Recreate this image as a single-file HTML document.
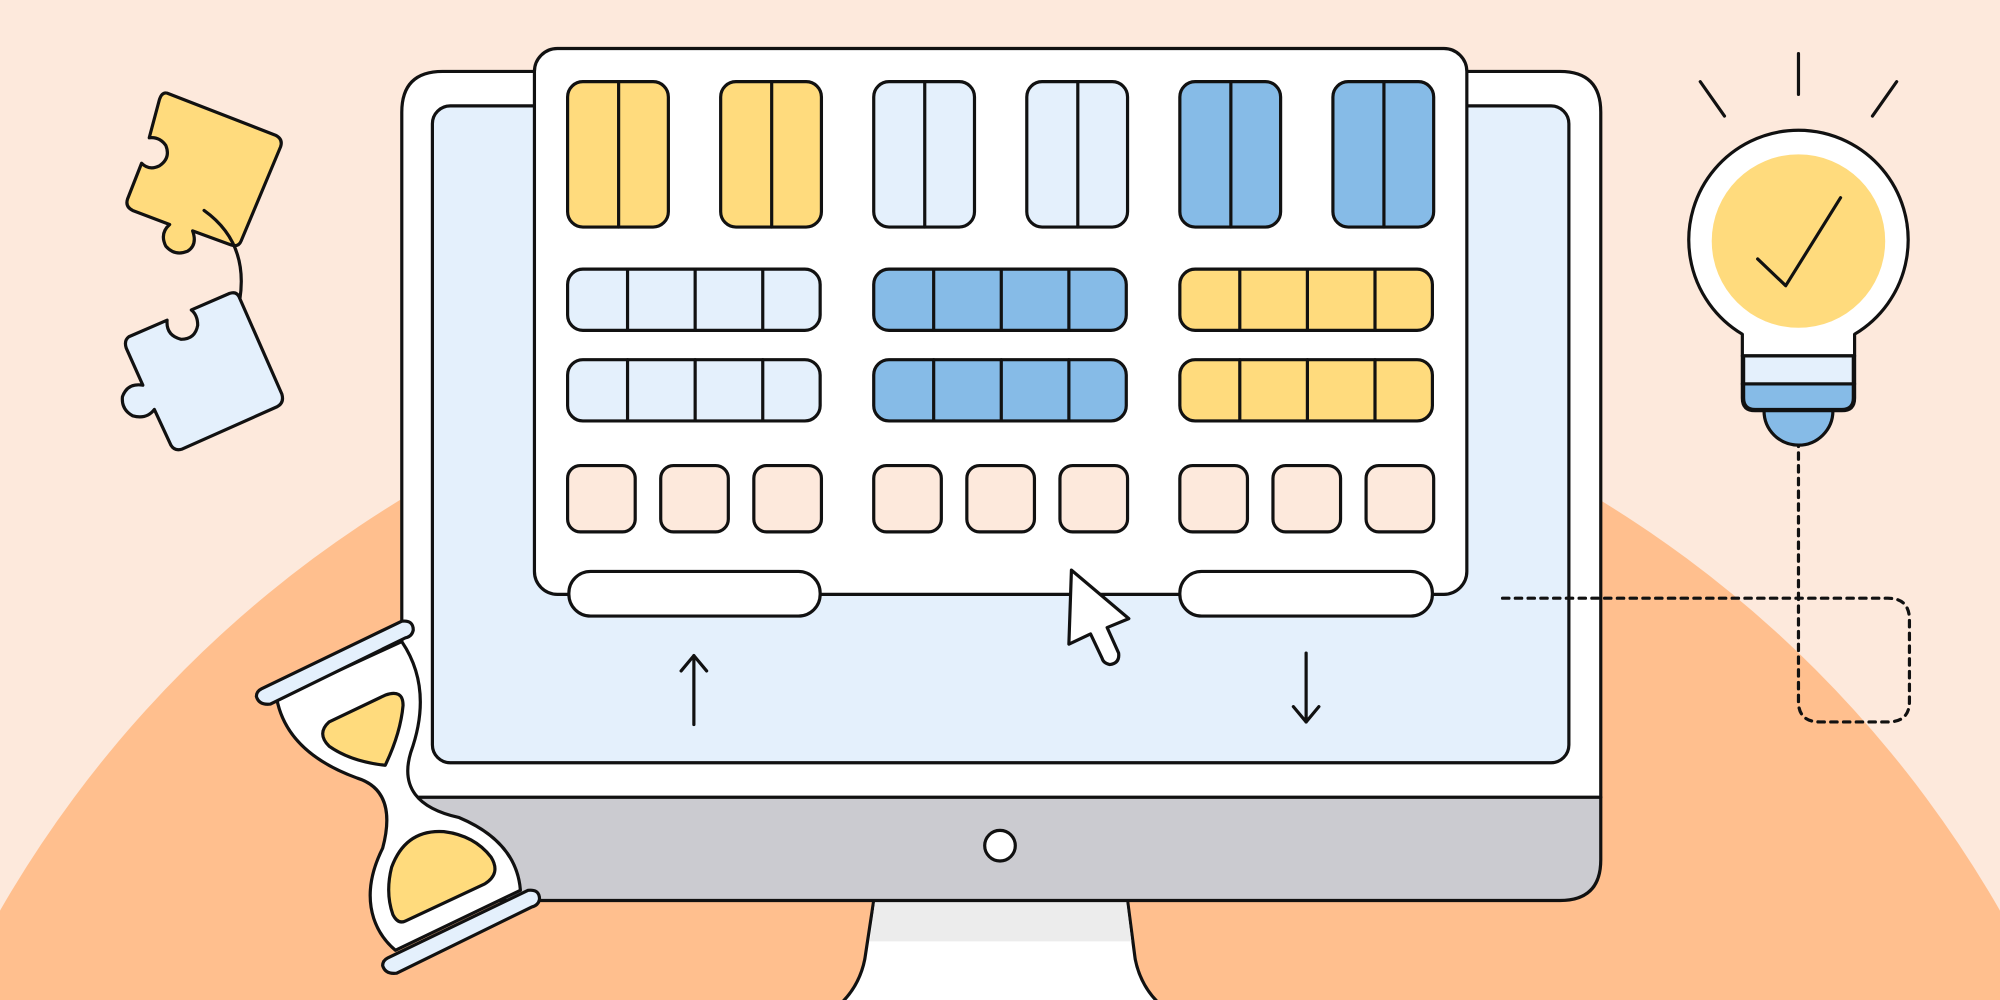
<!DOCTYPE html>
<html><head><meta charset="utf-8"><style>
html,body{margin:0;padding:0;width:2000px;height:1000px;overflow:hidden;background:#fde9dc}
svg{display:block;overflow:hidden}
</style></head><body>
<svg width="2000" height="1000" viewBox="0 0 1568 784" xmlns="http://www.w3.org/2000/svg" stroke="#111" stroke-width="2.5" stroke-linejoin="round" stroke-linecap="round">
<rect x="0" y="0" width="1568" height="784" fill="#fde9dc" stroke="none"/>
<circle cx="784" cy="1164" r="904" fill="#ffbf8e" stroke="none"/>
<!-- stand -->
<path d="M685 706 L678 752 Q674 772 660 786 L908 786 Q894 772 890 752 L884 706 Z" fill="#fff"/>
<path d="M686 707 L682 738 L887 738 L883 707 Z" fill="#ececec" stroke="none"/>
<!-- monitor -->
<path d="M315 625 L1255 625 L1255 674 Q1255 706 1223 706 L347 706 Q315 706 315 674 Z" fill="#cbcbd0"/>
<path d="M315 625 L315 88 Q315 56 347 56 L1223 56 Q1255 56 1255 88 L1255 625 Z" fill="#fff"/>
<circle cx="784" cy="663" r="12" fill="#fff"/>
<rect x="339" y="83" width="891" height="515" rx="14" fill="#e4f0fc"/>
<!-- window -->
<rect x="419" y="38" width="731" height="428" rx="18" fill="#fff"/>
<g>
<rect x="445" y="64" width="79" height="114" rx="12" fill="#ffdb7d"/><line x1="485" y1="64" x2="485" y2="178"/>
<rect x="565" y="64" width="79" height="114" rx="12" fill="#ffdb7d"/><line x1="605" y1="64" x2="605" y2="178"/>
<rect x="685" y="64" width="79" height="114" rx="12" fill="#e4f0fc"/><line x1="725" y1="64" x2="725" y2="178"/>
<rect x="805" y="64" width="79" height="114" rx="12" fill="#e4f0fc"/><line x1="845" y1="64" x2="845" y2="178"/>
<rect x="925" y="64" width="79" height="114" rx="12" fill="#86bbe7"/><line x1="965" y1="64" x2="965" y2="178"/>
<rect x="1045" y="64" width="79" height="114" rx="12" fill="#86bbe7"/><line x1="1085" y1="64" x2="1085" y2="178"/>
</g>
<g>
<rect x="445" y="211" width="198" height="48" rx="12" fill="#e4f0fc"/>
<rect x="685" y="211" width="198" height="48" rx="12" fill="#86bbe7"/>
<rect x="925" y="211" width="198" height="48" rx="12" fill="#ffdb7d"/>
<rect x="445" y="282" width="198" height="48" rx="12" fill="#e4f0fc"/>
<rect x="685" y="282" width="198" height="48" rx="12" fill="#86bbe7"/>
<rect x="925" y="282" width="198" height="48" rx="12" fill="#ffdb7d"/>
<path d="M492 211V259M545 211V259M598 211V259M732 211V259M785 211V259M838 211V259M972 211V259M1025 211V259M1078 211V259
M492 282V330M545 282V330M598 282V330M732 282V330M785 282V330M838 282V330M972 282V330M1025 282V330M1078 282V330"/>
</g>
<g fill="#fde9dc">
<rect x="445" y="365" width="53" height="52" rx="10"/><rect x="518" y="365" width="53" height="52" rx="10"/><rect x="591" y="365" width="53" height="52" rx="10"/>
<rect x="685" y="365" width="53" height="52" rx="10"/><rect x="758" y="365" width="53" height="52" rx="10"/><rect x="831" y="365" width="53" height="52" rx="10"/>
<rect x="925" y="365" width="53" height="52" rx="10"/><rect x="998" y="365" width="53" height="52" rx="10"/><rect x="1071" y="365" width="53" height="52" rx="10"/>
</g>
<rect x="446" y="448" width="197" height="35" rx="17" fill="#fff"/>
<rect x="925" y="448" width="198" height="35" rx="17" fill="#fff"/>
<path d="M544 568V514M534 526L544 514L554 526M1024 512V566M1014 554L1024 566L1034 554" fill="none"/>
<!-- cursor -->
<path d="M840 447 L885 485 L868 492 L877 512 Q878 520 870 521 Q865 520 864 516 L855 497 L838 505 Z" fill="#fff"/>
<!-- dashed -->
<path d="M1178 469 L1480 469 Q1497 469 1497 486 L1497 550 Q1497 566 1480 566 L1427 566 Q1410 566 1410 550 L1410 345" fill="none" stroke-dasharray="5 5"/>
<!-- bulb -->
<path d="M1410 42V74M1333 64L1352 91M1487 64L1468 91" fill="none"/>
<circle cx="1410" cy="322" r="27" fill="#86bbe7"/>
<path d="M1366 262 A86 86 0 1 1 1454 262 L1454 312 Q1454 322 1444 322 L1376 322 Q1366 322 1366 312 Z" fill="#fff"/>
<path d="M1367 301 L1453 301 L1453 312 Q1453 321 1444 321 L1376 321 Q1367 321 1367 312 Z" fill="#86bbe7"/>
<rect x="1367" y="279" width="86" height="22" fill="#e4f0fc"/>
<line x1="1366" y1="279" x2="1454" y2="279"/><line x1="1366" y1="301" x2="1454" y2="301"/>
<circle cx="1410" cy="189" r="68" fill="#ffdb7d" stroke="none"/>
<path d="M1378 203 L1400 224 L1443 155" fill="none"/>
<!-- puzzle yellow -->
<path d="M131 73 L216 106 Q222 109 220 115 L189 189 Q187 194 181 192 L151 181 Q155 192 147 197 Q137 201 130 193 Q125 183 133 176 L104 165 Q98 162 100 156 L111 128 Q117 134 125 130 Q134 124 130 114 Q125 107 117 108 L125 78 Q127 72 131 73 Z" fill="#ffdb7d"/>
<path d="M160 165 Q195 190 188 235 Q185 255 176 270 M172 256 L175 270 L189 266" fill="none"/>
<!-- puzzle blue -->
<path d="M101 264 L131 251 Q130 263 142 266 Q153 266 155 255 Q155 247 150 243 L180 230 Q186 228 188 234 L221 309 Q223 316 217 319 L143 352 Q137 354 134 349 L121 321 Q115 329 104 326 Q95 321 96 311 Q100 300 112 302 L99 273 Q97 267 101 264 Z" fill="#e4f0fc"/>
<!-- hourglass -->
<path d="M217 548 Q225 590 280 610 Q312 620 300 665 Q285 695 293 720 Q298 735 310 745 L408 698 Q405 660 360 641 Q310 630 322 590 Q340 540 315 503 Z" fill="#fff"/>
<path d="M258 566 L302 545 Q316 540 316 553 Q314 575 302 600 Q275 597 258 585 Q248 575 258 566 Z" fill="#ffdb7d"/>
<path d="M318 722 L380 693 Q393 685 385 672 Q372 655 348 652 Q318 650 307 680 Q302 700 308 717 Q312 725 318 722 Z" fill="#ffdb7d"/>
<path d="M205 540 L315 487 Q324 486 324 494 Q323 499 318 500 L212 552 Q203 553 201 546 Q201 542 205 540 Z" fill="#e4f0fc"/>
<path d="M304 751 L414 698 Q423 697 423 705 Q422 710 417 711 L311 763 Q302 764 300 757 Q300 753 304 751 Z" fill="#e4f0fc"/>
</svg>
</body></html>
